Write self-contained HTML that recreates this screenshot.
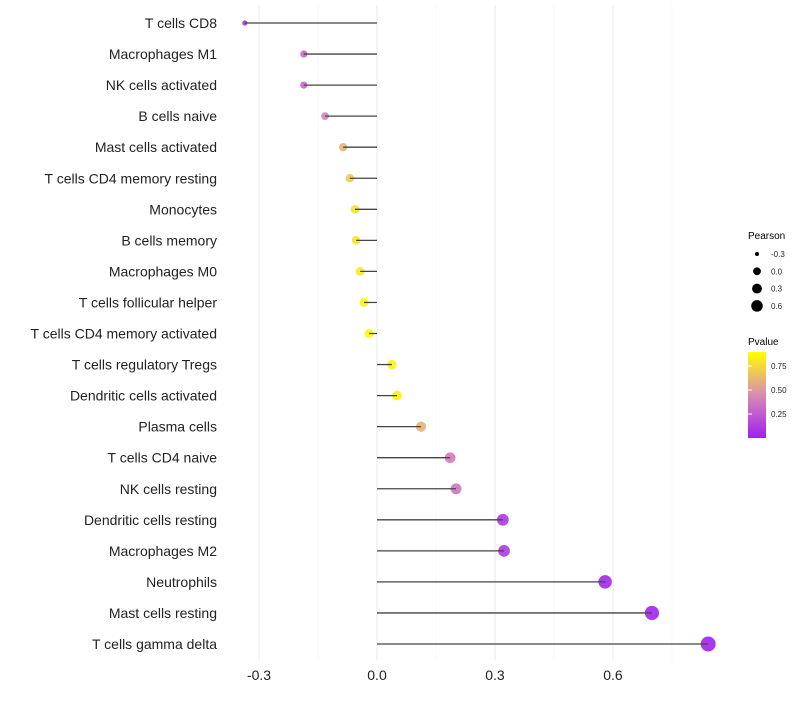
<!DOCTYPE html>
<html><head><meta charset="utf-8"><style>
body{margin:0;background:#fff;font-family:"Liberation Sans",sans-serif}
</style></head><body>
<svg id="chart" width="800" height="700" xmlns="http://www.w3.org/2000/svg" font-family="Liberation Sans, sans-serif">
<g id="grid"></g><g id="marks"></g><g id="labels"></g>
<g id="legend">
<text x="748" y="239" font-size="10" fill="#000">Pearson</text>
<g id="sizeLegend"></g>
<text x="748" y="345" font-size="10" fill="#000">Pvalue</text>
<defs><linearGradient id="pg" x1="0" y1="1" x2="0" y2="0">
<stop offset="0" stop-color="#a020f0"/><stop offset="0.5" stop-color="#d98bb4"/><stop offset="1" stop-color="#ffff00"/></linearGradient></defs>
<rect x="748" y="352" width="18" height="86" fill="url(#pg)"/>
<g id="colorTicks"></g>
</g>
</svg>
<script>
const categories=["T cells CD8","Macrophages M1","NK cells activated","B cells naive","Mast cells activated","T cells CD4 memory resting","Monocytes","B cells memory","Macrophages M0","T cells follicular helper","T cells CD4 memory activated","T cells regulatory  Tregs","Dendritic cells activated","Plasma cells","T cells CD4 naive","NK cells resting","Dendritic cells resting","Macrophages M2","Neutrophils","Mast cells resting","T cells gamma delta"];
const pearson=[-0.336,-0.186,-0.186,-0.132,-0.086,-0.069,-0.056,-0.053,-0.043,-0.033,-0.020,0.038,0.051,0.112,0.186,0.201,0.320,0.323,0.580,0.699,0.842];
const pvalues=[0.06,0.3,0.3,0.42,0.6,0.7,0.78,0.8,0.82,0.86,0.88,0.86,0.84,0.6,0.38,0.35,0.1,0.1,0.03,0.02,0.01];
const xTicks=[-0.3,0,0.3,0.6];
const sizeLegend=[-0.3,0,0.3,0.6];
const colorTicks=[0.25,0.5,0.75];
const NS="http://www.w3.org/2000/svg";
const xs=v=>377+v*393.3;
const ys=i=>23+i*31.05;
const rs=v=>Math.max(1.8,Math.sqrt(Math.max(0,21+42*v)));
function lerp(a,b,t){return Math.round(a+(b-a)*t);}
function col(p){const s=[[0,[160,32,240]],[0.45,[217,139,180]],[0.9,[255,255,0]]];p=Math.max(0,Math.min(0.9,p));
for(let k=0;k<2;k++){if(p<=s[k+1][0]){const t=(p-s[k][0])/(s[k+1][0]-s[k][0]);const a=s[k][1],b=s[k+1][1];return `rgb(${lerp(a[0],b[0],t)},${lerp(a[1],b[1],t)},${lerp(a[2],b[2],t)})`;}}return "rgb(255,255,0)";}
function el(t,a,p){const e=document.createElementNS(NS,t);for(const k in a)e.setAttribute(k,a[k]);p.appendChild(e);return e;}
const grid=document.getElementById('grid'),marks=document.getElementById('marks'),labels=document.getElementById('labels');
[-0.15,0.15,0.45,0.75].forEach(v=>{const l=el('line',{x1:xs(v),x2:xs(v),y1:5,y2:660,stroke:'#f3f3f3','stroke-width':0.6},grid);});
xTicks.forEach(v=>{const l=el('line',{x1:xs(v),x2:xs(v),y1:5,y2:660,stroke:'#ebebeb','stroke-width':1.1},grid);
const t=el('text',{x:xs(v),y:680,'font-size':14,'text-anchor':'middle',fill:'#222'},labels);t.textContent=v===0?"0.0":v.toFixed(1);});
categories.forEach((c,i)=>{const y=ys(i);
const t=el('text',{x:217,y:y+5,'font-size':14,'text-anchor':'end',fill:'#222'},labels);t.textContent=c;
const d=el('circle',{cx:xs(pearson[i]),cy:y,r:rs(pearson[i]),fill:col(pvalues[i]),'fill-opacity':0.9},marks);
const l=el('line',{x1:xs(0),x2:xs(pearson[i]),y1:y,y2:y,stroke:'#444','stroke-width':1.3},marks);});
const sl=document.getElementById('sizeLegend');
sizeLegend.forEach((v,i)=>{const y=254+i*17.3;const c=el('circle',{cx:757,cy:y,r:v<0?2:rs(v)*0.85,fill:'#000'},sl);
const t=el('text',{x:771,y:y+3,'font-size':8,fill:'#222'},sl);t.textContent=v.toFixed(1);});
const ct=document.getElementById('colorTicks');
colorTicks.forEach(v=>{const y=438-v*96;const l=el('line',{x1:748,x2:752,y1:y,y2:y,stroke:'#fff'},ct);
const t=el('text',{x:771,y:y+3,'font-size':8,fill:'#222'},ct);t.textContent=v.toFixed(2);});
</script>
</body></html>
